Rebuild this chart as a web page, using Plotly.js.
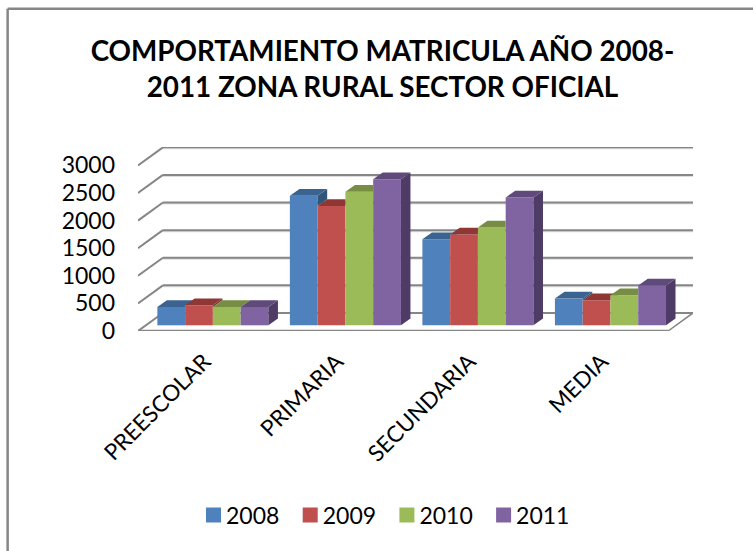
<!DOCTYPE html>
<html>
<head>
<meta charset="utf-8">
<script src="https://cdn.plot.ly/plotly-3.0.1.min.js"></script>
<style>html,body{margin:0;padding:0;background:#fff}#chart{width:753px;height:551px}</style>
</head>
<body>
<div id="chart"></div>
<script>
const categories = ['PREESCOLAR', 'PRIMARIA', 'SECUNDARIA', 'MEDIA'];
const seriesNames = ['2008', '2009', '2010', '2011'];
const v2008 = [333, 2346, 1561, 484];
const v2009 = [363, 2160, 1646, 454];
const v2010 = [333, 2420, 1773, 544];
const v2011 = [333, 2648, 2315, 720];
const yTicks = [0, 500, 1000, 1500, 2000, 2500, 3000];
const frontColors = ['#4F81BD', '#C0504D', '#9BBB59', '#8064A2'];
const topColors = ['#3A6391', '#8E3735', '#768D43', '#604A7B'];
const sideColors = ['#2F5578', '#7A2F2D', '#637739', '#4F3C66'];

// Projection of the pseudo-3D box, in axis units
const wallDx = 0.188, wallDy = 327;     // floor depth
const barShift = 0.065, barBase = 103;  // bars stand inside the floor
const barDx = 0.072, barDy = 122;       // bar depth
const clusterW = 0.838, barW = clusterW / 4;
const seriesValues = [v2008, v2009, v2010, v2011];

const traces = [];
seriesValues.forEach((vals, s) => {
  traces.push({
    type: 'bar', name: seriesNames[s],
    x: categories.map((c, i) => i + barShift), y: vals, base: barBase,
    marker: {color: frontColors[s], line: {width: 0}},
    hoverinfo: 'skip'
  });
});

function poly(xs, ys, color) {
  traces.push({
    type: 'scatter', mode: 'lines', x: xs.concat(xs[0]), y: ys.concat(ys[0]),
    fill: 'toself', fillcolor: color, line: {width: 0, color: color},
    showlegend: false, hoverinfo: 'skip'
  });
}
categories.forEach((c, i) => {
  const left = i + barShift - clusterW / 2;
  seriesValues.forEach((vals, s) => {
    const h = vals[i] + barBase;
    const xl = left + s * barW, xr = xl + barW;
    const last = s === seriesValues.length - 1;
    const next = last ? barBase : seriesValues[s + 1][i] + barBase;
    // side face: only the part not hidden by the neighbouring bar
    if (next < h + barDy) {
      const low = Math.min(next, h);
      poly([xr, xr + barDx, xr + barDx, xr], [h, h + barDy, low + barDy, low], sideColors[s]);
    }
    // top face, clipped by a taller neighbour
    if (last || next <= h) {
      poly([xl, xr, xr + barDx, xl + barDx], [h, h, h + barDy, h + barDy], topColors[s]);
    } else if (next >= h + barDy) {
      poly([xl, xr, xr, xl + barDx], [h, h, h + barDy, h + barDy], topColors[s]);
    } else {
      const t = (next - h) / barDy;
      poly([xl, xr, xr, xr + barDx * t, xr + barDx, xl + barDx],
           [h, h, next, next, h + barDy, h + barDy], topColors[s]);
    }
  });
});

const x0 = -0.5, x1 = 3.5;
const gridColor = '#868686', shadow = 'rgba(134,134,134,0.28)';
function seg(xa, ya, xb, yb, color, width) {
  return {type: 'line', xref: 'x', yref: 'y', layer: 'below', x0: xa, y0: ya, x1: xb, y1: yb,
          line: {color: color, width: width}};
}
const shapes = [];
yTicks.forEach(t => {
  if (t > 0) {
    shapes.push(seg(x0 + wallDx, t + wallDy - 18, x1 + wallDx, t + wallDy - 18, shadow, 2));
    shapes.push(seg(x0, t, x0 + wallDx, t + wallDy, gridColor, 2));
  }
  shapes.push(seg(x0 + wallDx, t + wallDy, x1 + wallDx, t + wallDy, gridColor, 2));
});
shapes.push(seg(x0, 0, x0 + wallDx, wallDy, gridColor, 2));
shapes.push(seg(x1, 0, x1 + wallDx, wallDy, gridColor, 1.5));
shapes.push(seg(x0, -18, x1, -18, shadow, 2));
shapes.push(seg(x0, 0, x1, 0, gridColor, 2.5));

// chart frame: open on the right and at the bottom, as in the picture
const L = 138.3, W = 554.7, T = 147, H = 183.7;
const px = p => (p - L) / W, py = p => 1 - (p - T) / H;
const frame = (a, b, c, d) => ({type: 'line', xref: 'paper', yref: 'paper', x0: px(a), y0: py(b), x1: px(c), y1: py(d),
  line: {color: '#868686', width: 2.5}});
shapes.push(frame(8, 9, 753, 9), frame(8, 9, 8, 551));

const fontFamily = 'Lato, "Open Sans", sans-serif';
Plotly.newPlot('chart', traces, {
  width: 753, height: 551,
  margin: {l: L, r: 753 - L - W, t: T, b: 551 - T - H, pad: 0},
  paper_bgcolor: '#fff', plot_bgcolor: 'rgba(0,0,0,0)',
  barmode: 'group', bargap: 1 - clusterW, bargroupgap: 0,
  font: {family: fontFamily, color: '#000', size: 23},
  title: {text: 'COMPORTAMIENTO MATRICULA AÑO 2008-<br>2011 ZONA RURAL SECTOR OFICIAL',
          x: 382.5 / 753, xanchor: 'center', y: 1 - 61 / 551, yanchor: 'middle',
          font: {family: fontFamily, size: 27.8, weight: 700, color: '#000'}},
  xaxis: {range: [x0, x1 + wallDx], tickmode: 'array', tickvals: [0, 1, 2, 3], ticktext: categories,
          tickangle: -45, showgrid: false, zeroline: false, showline: false, ticks: '', fixedrange: true,
          tickfont: {size: 22.5}, ticklabelstandoff: 12},
  yaxis: {range: [0, 3333], tickmode: 'array', tickvals: yTicks, ticktext: yTicks.map(String),
          showgrid: false, zeroline: false, showline: false, ticks: '', fixedrange: true,
          tickfont: {size: 23}, ticklabelstandoff: 22},
  legend: {orientation: 'h', x: 186 / 753, xanchor: 'left', xref: 'container', yref: 'container',
           y: 1 - 515 / 551, yanchor: 'middle', font: {size: 23}, entrywidth: 51.7, entrywidthmode: 'pixels',
           traceorder: 'normal'},
  shapes: shapes,
  showlegend: true
}, {displayModeBar: false, staticPlot: true}).then(gd => {
  // legend swatches: slightly larger and closer to their label, as in the picture
  gd.querySelectorAll('.legend .legendpoints').forEach(el => {
    const t = el.getAttribute('transform') || '';
    el.setAttribute('transform', t + ' translate(2.5,0) scale(1.25)');
  });
});
</script>
</body>
</html>
